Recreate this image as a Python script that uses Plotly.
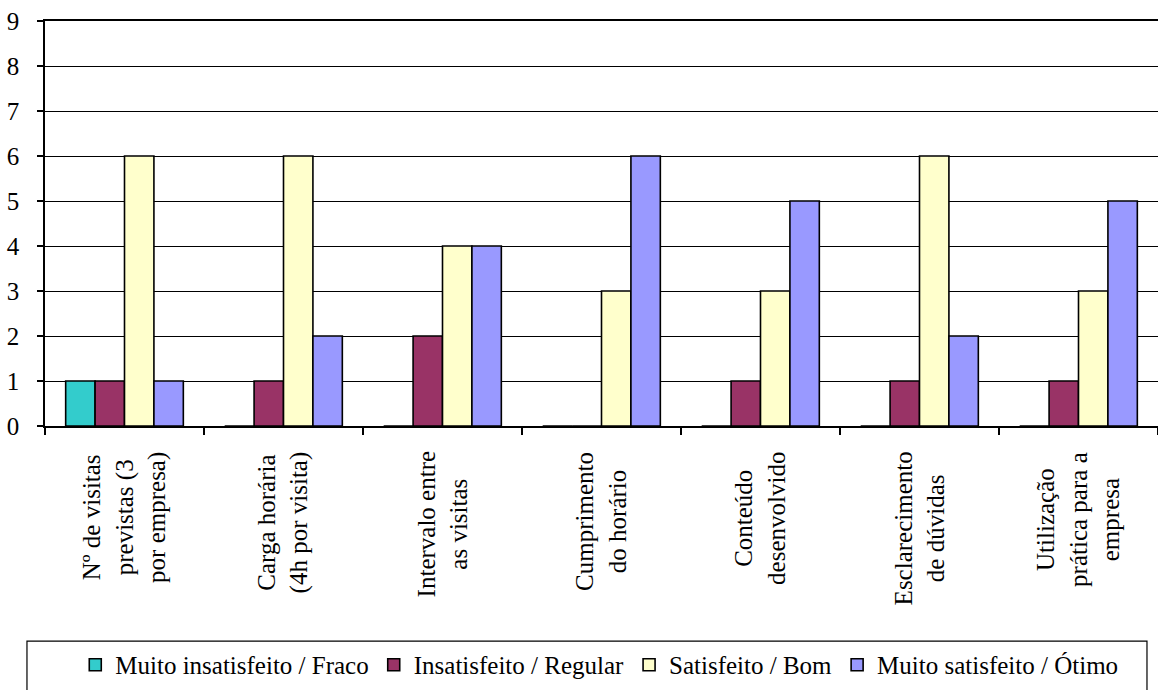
import plotly.graph_objects as go

# Survey categories (line breaks as printed under the axis)
categories = [
    "Nº de visitas<br>previstas (3<br>por empresa)",
    "Carga horária<br>(4h por visita)",
    "Intervalo entre<br>as visitas",
    "Cumprimento<br>do horário",
    "Conteúdo<br>desenvolvido",
    "Esclarecimento<br>de dúvidas",
    "Utilização<br>prática para a<br>empresa",
]

series_names = [
    "Muito insatisfeito / Fraco",
    "Insatisfeito / Regular",
    "Satisfeito / Bom",
    "Muito satisfeito / Ótimo",
]

muito_insatisfeito = [1, 0, 0, 0, 0, 0, 0]
insatisfeito = [1, 1, 2, 0, 1, 1, 1]
satisfeito = [6, 6, 4, 3, 3, 6, 3]
muito_satisfeito = [1, 2, 4, 6, 5, 2, 5]

y_ticks = list(range(0, 10))

colors = ["#33CCCC", "#993366", "#FFFFCC", "#9999FF"]
values = [muito_insatisfeito, insatisfeito, satisfeito, muito_satisfeito]

FONT = "Liberation Serif"

fig = go.Figure()
for name, vals, col in zip(series_names, values, colors):
    fig.add_trace(go.Bar(
        x=categories,
        y=vals,
        name=name,
        marker=dict(color=col, line=dict(color="black", width=1.6)),
    ))

# Rotated, centred category labels below the axis
for cat in categories:
    fig.add_annotation(
        x=cat, xref="x",
        y=-0.059, yref="paper",
        text=cat,
        textangle=-90,
        showarrow=False,
        xanchor="center", yanchor="top",
        align="center",
        font=dict(family=FONT, size=25),
    )

# Frame around the legend
fig.add_shape(
    type="rect", xref="paper", yref="paper",
    x0=-0.0162, x1=0.9901, y0=-0.531, y1=-0.70,
    line=dict(color="black", width=1.2),
)

fig.update_layout(
    width=1158, height=690,
    margin=dict(l=45, r=0, t=21, b=264),
    font=dict(family=FONT, size=25, color="black"),
    plot_bgcolor="white",
    barmode="group",
    bargap=0.26,
    showlegend=True,
    legend=dict(
        orientation="h",
        x=0.498, xanchor="center",
        y=-0.59, yanchor="middle",
        font=dict(family=FONT, size=25),
        itemwidth=30,
    ),
    xaxis=dict(
        type="category",
        showticklabels=False,
        ticks="outside",
        tickson="boundaries",
        ticklen=7,
        tickcolor="black",
        tickwidth=1.5,
        showline=True,
        linecolor="black",
        linewidth=2,
        mirror=True,
        showgrid=False,
    ),
    yaxis=dict(
        range=[0, 9],
        tickvals=y_ticks,
        ticks="outside",
        ticklen=6,
        tickcolor="black",
        tickwidth=1.5,
        ticklabelstandoff=13,
        showline=True,
        linecolor="black",
        linewidth=1.5,
        showgrid=True,
        gridcolor="black",
        gridwidth=1,
        zeroline=False,
        tickfont=dict(family=FONT, size=25),
    ),
)

fig.write_html("out.html")
